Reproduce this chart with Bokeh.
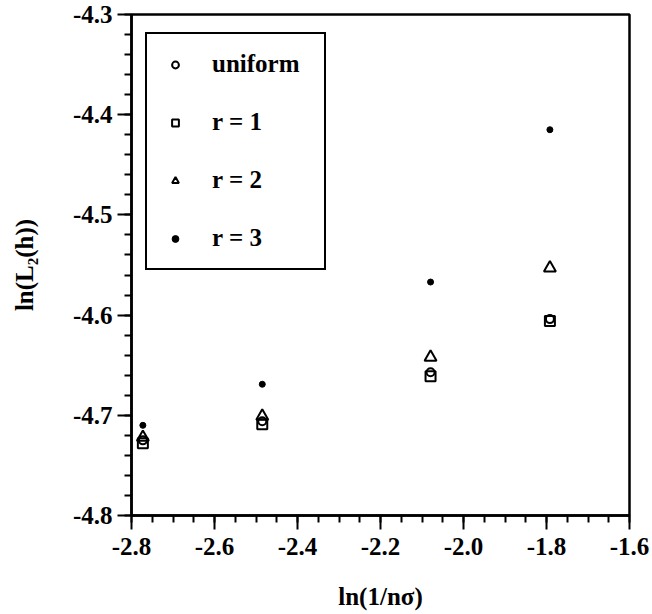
from bokeh.plotting import figure
from bokeh.models import (FixedTicker, PrintfTickFormatter, Legend, LegendItem, Range1d)
from bokeh.embed import file_html
from bokeh.resources import INLINE
import numpy as np

# ---- data ----
x_vals = [-2.7726, -2.4849, -2.0794, -1.7918]
uniform = [-4.725, -4.706, -4.657, -4.604]
r1 = [-4.728, -4.709, -4.661, -4.606]
r2 = [-4.722, -4.701, -4.642, -4.553]
r3 = [-4.710, -4.669, -4.567, -4.415]
series_labels = ["uniform", "r = 1", "r = 2", "r = 3"]
x_ticks = [-2.8, -2.6, -2.4, -2.2, -2.0, -1.8, -1.6]
y_ticks = [-4.8, -4.7, -4.6, -4.5, -4.4, -4.3]

FONT = "Liberation Serif"

p = figure(width=652, height=614, output_backend="svg", toolbar_location=None,
           x_range=Range1d(-2.8, -1.6), y_range=Range1d(-4.8, -4.3),
           min_border_left=131, min_border_right=23, min_border_top=14,
           min_border_bottom=99)
p.xgrid.visible = False
p.ygrid.visible = False
p.outline_line_color = "black"
p.outline_line_width = 2.5
p.outline_line_alpha = 1.0

x_minor = list(np.round(np.arange(-2.8, -1.6 + 1e-9, 0.05), 3))
y_minor = list(np.round(np.arange(-4.8, -4.3 + 1e-9, 0.02), 3))

axes = [p.xaxis[0], p.yaxis[0]]
axes[0].ticker = FixedTicker(ticks=x_ticks, minor_ticks=x_minor)
axes[1].ticker = FixedTicker(ticks=y_ticks, minor_ticks=y_minor)

for ax in axes:
    ax.formatter = PrintfTickFormatter(format="%.1f")
    ax.axis_line_width = 2.5
    ax.axis_line_color = "black"
    ax.major_tick_line_width = 2
    ax.minor_tick_line_width = 2
    ax.major_tick_line_color = "black"
    ax.minor_tick_line_color = "black"
    ax.major_tick_in = 0
    ax.minor_tick_in = 0
    ax.major_tick_out = 14
    ax.minor_tick_out = 7
    ax.major_label_text_font = FONT
    ax.major_label_text_font_style = "bold"
    ax.major_label_text_font_size = "25px"
    ax.major_label_text_color = "black"
    ax.axis_label_text_font = FONT
    ax.axis_label_text_font_style = "bold"
    ax.axis_label_text_font_size = "25px"
    ax.axis_label_text_color = "black"

axes[0].axis_label = "ln(1/nσ)"
axes[1].axis_label = "ln(L₂(h))"
axes[0].major_label_standoff = 8
axes[1].major_label_standoff = 5
axes[0].axis_label_standoff = 25
axes[1].axis_label_standoff = 32

r_u = p.scatter(x_vals, uniform, marker="circle", size=8, fill_color=None,
                line_color="black", line_width=2)
r_1 = p.scatter(x_vals, r1, marker="square", size=10, fill_color=None,
                line_color="black", line_width=2)
r_2 = p.scatter(x_vals, r2, marker="triangle", size=12, fill_color=None,
                line_color="black", line_width=2)
r_3 = p.scatter(x_vals, r3, marker="circle", size=6, fill_color="black",
                line_color="black", line_width=1)

legend = Legend(items=[LegendItem(label=series_labels[0], renderers=[r_u]),
                       LegendItem(label=series_labels[1], renderers=[r_1]),
                       LegendItem(label=series_labels[2], renderers=[r_2]),
                       LegendItem(label=series_labels[3], renderers=[r_3])],
                location=(14, 245), orientation="vertical",
                border_line_color="black", border_line_width=2.5,
                border_line_alpha=1.0,
                background_fill_color="white", background_fill_alpha=1.0,
                padding=16, spacing=30,
                glyph_width=24, glyph_height=17, label_height=22,
                label_width=96, label_standoff=25,
                label_text_font=FONT, label_text_font_style="bold",
                label_text_font_size="25px", label_text_color="black",
                margin=0)
p.add_layout(legend, "center")

open("out.html", "w").write(file_html(p, INLINE))
